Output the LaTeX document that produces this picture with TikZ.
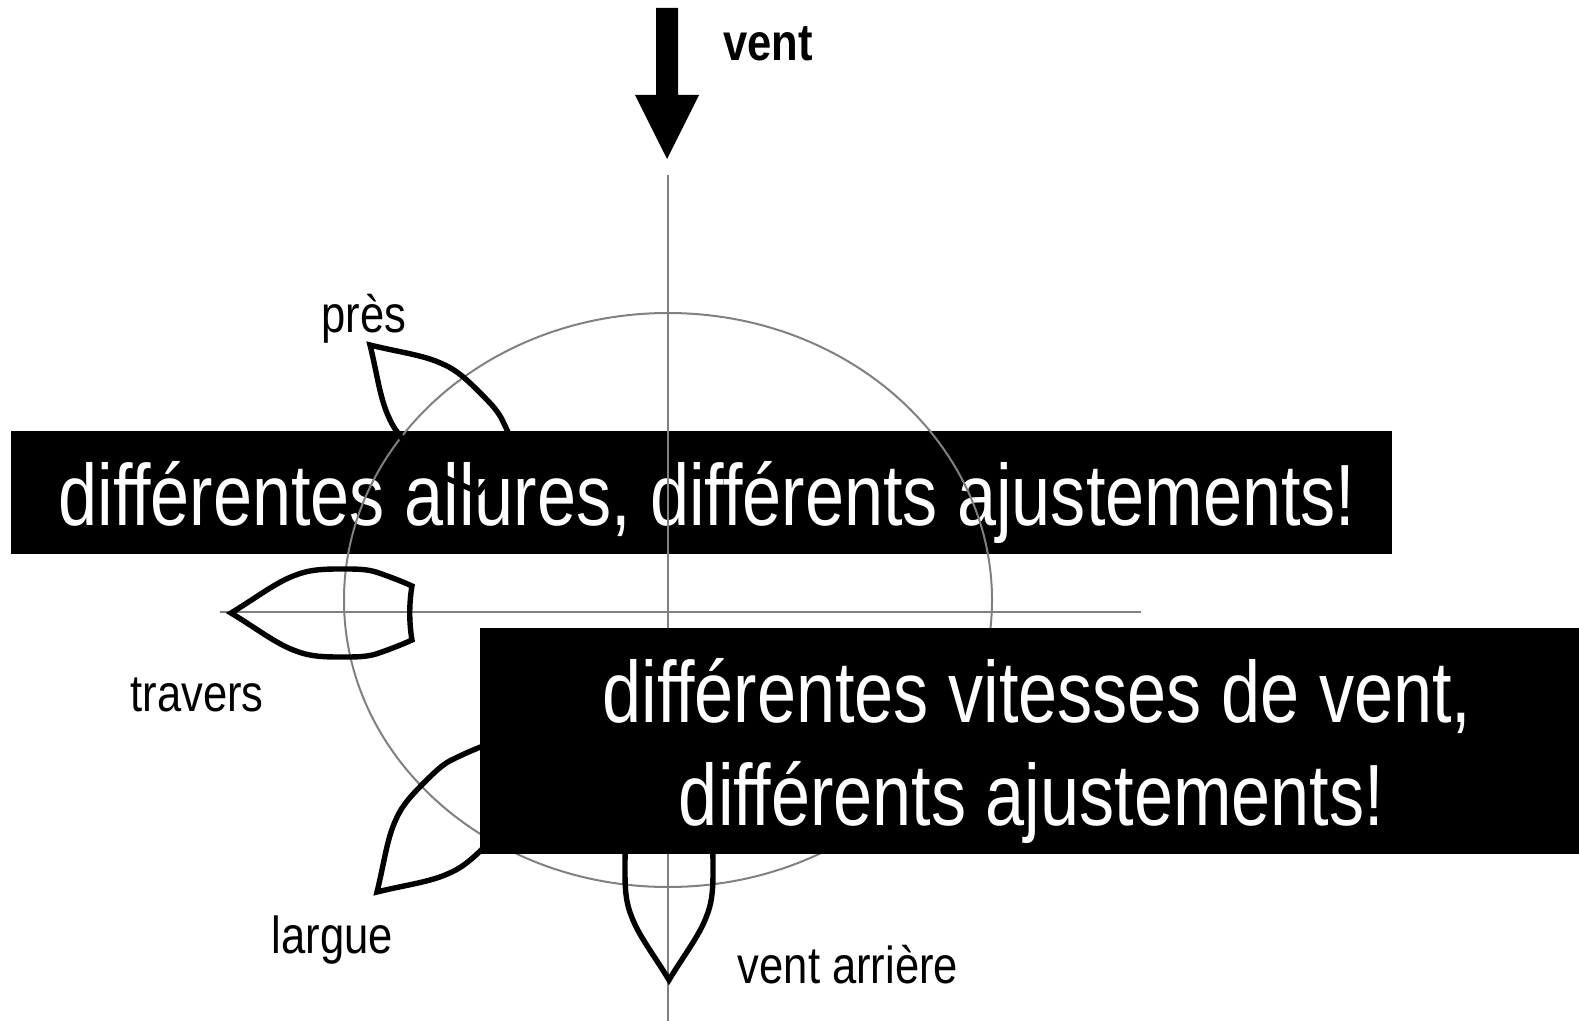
\documentclass[tikz,border=0pt]{standalone}
\usepackage{fontspec}
\setmainfont{Liberation Sans}
\newcommand{\nar}[1]{\scalebox{0.807}[1]{#1}}
\newcommand{\narl}[1]{\scalebox{0.838}[1]{#1}}
\tikzset{
  blackbar/.style={fill=black,draw=none},
  guide/.style={draw=black!50,line width=1pt},
  hull/.style={draw=black,line width=2.7pt,line join=miter},
  bartext/.style={text=white,font=\fontsize{43.5pt}{43.5pt}\selectfont,anchor=base,inner sep=0pt},
  lab/.style={text=black,font=\fontsize{26pt}{26pt}\selectfont,anchor=base,inner sep=0pt},
  boat/.pic={
    \path[hull] (0,0) .. controls (25,-15) and (45,-31) .. (65,-38)
      .. controls (80,-44) and (95,-44) .. (112,-44)
      .. controls (125,-44) and (135,-44) .. (145,-41)
      .. controls (157,-37) and (170,-32) .. (181,-27)
      .. controls (178,-10) and (178,10) .. (181,27)
      .. controls (170,32) and (157,37) .. (145,41)
      .. controls (135,44) and (125,44) .. (112,44)
      .. controls (95,44) and (80,44) .. (65,38)
      .. controls (45,31) and (25,15) .. cycle;
  }
}
\begin{document}
\begin{tikzpicture}[x=0.5pt,y=-0.5pt]
\useasboundingbox (0,0) rectangle (1579,1021);
% top bar
\path[blackbar] (11,431) rectangle (1392,554);
\node[bartext] (t1) at (707,525) {\nar{différentes allures, différents ajustements!}};
% guides
\coordinate (vtop) at (667.5,175);
\coordinate (vbot) at (667.5,1021);
\coordinate (hl) at (220,612);
\coordinate (hr) at (1141,612);
\coordinate (c) at (668,600);
\draw[guide] (vtop) -- (vbot);
\draw[guide] (hl) -- (hr);
\draw[guide] (c) ellipse [x radius=324, y radius=287];
% boats
\pic[shift={(370,345)},rotate=-45] {boat};
\pic[shift={(231,613)}] {boat};
\pic[shift={(377,892)},rotate=45] {boat};
\pic[shift={(669,980)},rotate=90] {boat};
% wind arrow
\fill[black] (656,8) -- (678,8) -- (678,95) -- (699,95) -- (667,159) -- (635,95) -- (656,95) -- cycle;
\node[lab,font=\fontsize{26pt}{26pt}\selectfont\bfseries] (vent) at (768,61) {\narl{vent}};
% labels
\node[lab] (pres) at (364,333) {\narl{près}};
\node[lab] (travers) at (197,711) {\narl{travers}};
\node[lab] (largue) at (332.5,953) {\narl{largue}};
\node[lab] (arriere) at (848,983) {\narl{vent arrière}};
% lower bar
\path[blackbar] (480,628) rectangle (1579,854);
\node[bartext] (t2) at (1037,722) {\nar{différentes vitesses de vent,}};
\node[bartext] (t3) at (1031.5,825) {\nar{différents ajustements!}};
\end{tikzpicture}
\end{document}
